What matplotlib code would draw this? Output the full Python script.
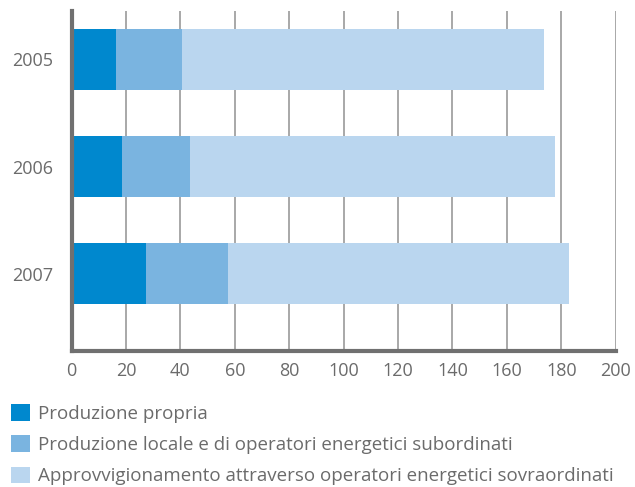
import matplotlib
matplotlib.use("Agg")
import matplotlib.pyplot as plt
from matplotlib.patches import Patch

years = ["2005", "2006", "2007"]
produzione_propria = [16.4, 18.6, 27.4]
produzione_locale = [24.2, 25.0, 30.1]
approvvigionamento = [133.0, 134.1, 125.3]
series_labels = [
    "Produzione propria",
    "Produzione locale e di operatori energetici subordinati",
    "Approvvigionamento attraverso operatori energetici sovraordinati",
]
colors = ["#0088ce", "#7ab4e0", "#bad6ef"]
x_ticks = list(range(0, 201, 20))

plt.rcParams["font.family"] = ["Open Sans", "DejaVu Sans"]
text_color = "#6b6b6b"

fig = plt.figure(figsize=(6.35, 4.87), dpi=100)
ax = fig.add_axes([0.1126, 0.2793, 0.857, 0.698])

pos = list(range(len(years)))
left = [0] * len(years)
for vals, col in zip([produzione_propria, produzione_locale, approvvigionamento], colors):
    ax.barh(pos, vals, left=left, height=0.57, color=col, zorder=3)
    left = [l + v for l, v in zip(left, vals)]

ax.set_xlim(0, 200)
ax.set_ylim(2.72, -0.45)
ax.set_xticks(x_ticks)
ax.set_yticks(pos)
ax.set_yticklabels(years)
ax.tick_params(axis="both", length=0, labelsize=13, colors=text_color)
ax.tick_params(axis="y", pad=13)
ax.tick_params(axis="x", pad=8)
ax.xaxis.grid(True, color="#9a9a9a", linewidth=1.2, zorder=0)
ax.spines["top"].set_visible(False)
ax.spines["right"].set_visible(False)
for s in ["left", "bottom"]:
    ax.spines[s].set_color("#707070")
    ax.spines[s].set_linewidth(3)
    ax.spines[s].set_zorder(4)

handles = [Patch(facecolor=c, edgecolor="none") for c in colors]
fig.legend(handles, series_labels, loc="upper left", bbox_to_anchor=(0.017, 0.170),
           frameon=False, fontsize=13.5, labelcolor=text_color,
           handlelength=1.0, handleheight=0.96, handletextpad=0.43,
           labelspacing=0.67, borderaxespad=0, borderpad=0)

fig.savefig("out.png", dpi=100)
